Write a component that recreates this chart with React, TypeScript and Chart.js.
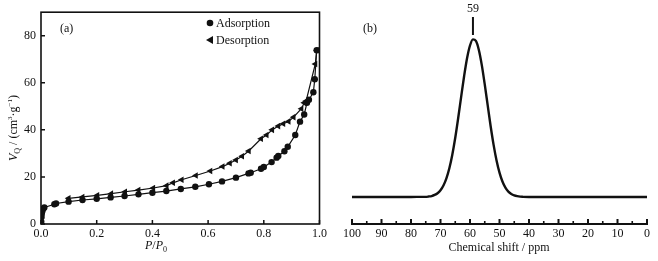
import React, { useEffect, useRef } from 'react';
import { Chart, registerables } from 'chart.js';

Chart.register(...registerables);

const FONT = '"Liberation Serif", "Times New Roman", serif';
const INK = '#111';

// (a) N2 isotherm
const adsorptionP = [0.001, 0.002, 0.003, 0.005, 0.008, 0.012, 0.048, 0.054, 0.099, 0.149, 0.2, 0.25, 0.3, 0.35, 0.4, 0.45, 0.502, 0.554, 0.603, 0.65, 0.7, 0.745, 0.753, 0.79, 0.8, 0.828, 0.846, 0.852, 0.874, 0.886, 0.913, 0.93, 0.945, 0.955, 0.962, 0.978, 0.983, 0.99];
const adsorptionV = [1, 3, 4.5, 5.5, 6.5, 7, 8.4, 8.7, 9.5, 10.2, 10.7, 11.3, 11.9, 12.6, 13.3, 14.0, 14.9, 15.8, 16.9, 18.1, 19.7, 21.5, 21.8, 23.5, 24.2, 26.3, 28.2, 28.9, 30.9, 32.8, 37.8, 43.5, 46.5, 51.5, 52.8, 56, 61.5, 73.8];
const desorptionP = [0.99, 0.985, 0.952, 0.945, 0.935, 0.907, 0.889, 0.87, 0.852, 0.83, 0.81, 0.79, 0.746, 0.722, 0.7, 0.678, 0.652, 0.608, 0.556, 0.505, 0.474, 0.451, 0.403, 0.35, 0.302, 0.252, 0.202, 0.149, 0.099];
const desorptionV = [73.8, 68, 52.3, 51.5, 49, 45.4, 43.6, 42.6, 41.6, 40, 37.8, 36.2, 31, 28.8, 27.2, 25.8, 24.4, 22.5, 20.6, 18.8, 17.5, 16.3, 15.3, 14.4, 13.7, 12.9, 12.2, 11.5, 10.9];
const pressureTicks = [0, 0.2, 0.4, 0.6, 0.8, 1.0];
const volumeTicks = [0, 20, 40, 60, 80];
const seriesNames = ['Adsorption', 'Desorption'];

// (b) NMR spectrum
const shiftPpm = [100, 90, 80, 76, 75, 74, 73, 72, 71, 70, 69, 68, 67, 66, 65, 64, 63, 62, 61, 60, 59, 58, 57, 56, 55, 54, 53, 52, 51, 50, 49, 48, 47, 46, 45, 44, 43, 42, 40, 30, 20, 10, 0];
const nmrIntensity = [0, 0, 0, 0.1, 0.1, 0.3, 0.6, 1.3, 2.4, 4.3, 7.3, 11.8, 18.2, 26.8, 37.5, 50, 63.4, 76.4, 87.8, 95.9, 99.8, 98.8, 93.1, 83.5, 71.3, 58, 44.8, 33, 23.1, 15.4, 9.8, 5.9, 3.4, 1.9, 1, 0.5, 0.2, 0.1, 0, 0, 0, 0, 0];
const shiftTicks = [100, 90, 80, 70, 60, 50, 40, 30, 20, 10, 0];
const shiftMinorTicks = [95, 85, 75, 65, 55, 45, 35, 25, 15, 5];
const peakLabel = 59;

type Part = { t: string; size: number; italic?: boolean; dy?: number };

function drawRich(ctx: CanvasRenderingContext2D, parts: Part[], cx: number, y: number) {
  const fontOf = (p: Part) => `${p.italic ? 'italic ' : ''}${p.size}px ${FONT}`;
  let total = 0;
  for (const p of parts) {
    ctx.font = fontOf(p);
    total += ctx.measureText(p.t).width;
  }
  let x = cx - total / 2;
  ctx.textAlign = 'left';
  ctx.textBaseline = 'alphabetic';
  for (const p of parts) {
    ctx.font = fontOf(p);
    ctx.fillText(p.t, x, y + (p.dy || 0));
    x += ctx.measureText(p.t).width;
  }
}

const leftDecor = {
  id: 'leftDecor',
  afterDraw(chart: any) {
    const ctx = chart.ctx as CanvasRenderingContext2D;
    const { left, right, top, bottom } = chart.chartArea;
    const xs = chart.scales.x;
    const ys = chart.scales.y;
    ctx.save();
    ctx.strokeStyle = INK;
    ctx.fillStyle = INK;
    ctx.lineWidth = 1.6;
    ctx.strokeRect(left, top, right - left, bottom - top);
    ctx.lineWidth = 1.5;
    ctx.beginPath();
    for (const v of pressureTicks) {
      const px = xs.getPixelForValue(v);
      ctx.moveTo(px, bottom);
      ctx.lineTo(px, bottom - 4);
    }
    for (const v of volumeTicks) {
      const py = ys.getPixelForValue(v);
      ctx.moveTo(left, py);
      ctx.lineTo(left + 4, py);
    }
    ctx.stroke();

    // panel label
    ctx.font = `12px ${FONT}`;
    ctx.textAlign = 'left';
    ctx.textBaseline = 'middle';
    ctx.fillText('(a)', 60, 29);

    // legend
    ctx.beginPath();
    ctx.arc(210, 23, 3.3, 0, Math.PI * 2);
    ctx.fill();
    ctx.beginPath();
    ctx.moveTo(206, 40);
    ctx.lineTo(213, 36);
    ctx.lineTo(213, 44);
    ctx.closePath();
    ctx.fill();
    ctx.font = `12px ${FONT}`;
    ctx.fillText(seriesNames[0], 216, 24);
    ctx.fillText(seriesNames[1], 216, 41);

    // x title
    drawRich(ctx, [
      { t: 'P', size: 12, italic: true },
      { t: '/', size: 12 },
      { t: 'P', size: 12, italic: true },
      { t: '0', size: 8, dy: 3 },
    ], 156, 249);

    // y title
    ctx.translate(17, 128);
    ctx.rotate(-Math.PI / 2);
    drawRich(ctx, [
      { t: 'V', size: 12, italic: true },
      { t: 'Q', size: 8, dy: 3 },
      { t: ' / (cm', size: 12 },
      { t: '3', size: 7, dy: -5 },
      { t: '·g', size: 12 },
      { t: '−1', size: 7, dy: -5 },
      { t: ')', size: 12 },
    ], 0, 0);
    ctx.restore();
  },
};

const rightDecor = {
  id: 'rightDecor',
  afterDraw(chart: any) {
    const ctx = chart.ctx as CanvasRenderingContext2D;
    const { bottom } = chart.chartArea;
    const xs = chart.scales.x;
    ctx.save();
    ctx.strokeStyle = INK;
    ctx.fillStyle = INK;
    ctx.lineWidth = 2;
    const x0 = xs.getPixelForValue(100);
    const x1 = xs.getPixelForValue(0);
    ctx.beginPath();
    ctx.moveTo(x0 - 1, bottom);
    ctx.lineTo(x1 + 1, bottom);
    ctx.stroke();
    ctx.beginPath();
    for (const v of shiftTicks) {
      const px = xs.getPixelForValue(v);
      ctx.moveTo(px, bottom);
      ctx.lineTo(px, bottom - 5);
    }
    ctx.stroke();
    ctx.lineWidth = 1.6;
    ctx.beginPath();
    for (const v of shiftMinorTicks) {
      const px = xs.getPixelForValue(v);
      ctx.moveTo(px, bottom);
      ctx.lineTo(px, bottom - 3);
    }
    ctx.stroke();

    ctx.font = `12px ${FONT}`;
    ctx.textAlign = 'left';
    ctx.textBaseline = 'middle';
    ctx.fillText('(b)', 363 - 330, 29);

    // peak marker
    const pk = xs.getPixelForValue(peakLabel);
    ctx.textAlign = 'center';
    ctx.fillText(String(peakLabel), pk, 9);
    ctx.lineWidth = 2;
    ctx.beginPath();
    ctx.moveTo(pk, 17);
    ctx.lineTo(pk, 35);
    ctx.stroke();

    // x title
    drawRich(ctx, [{ t: 'Chemical shift / ppm', size: 12 }], 499 - 330, 251);
    ctx.restore();
  },
};

export default function App() {
  const leftRef = useRef<HTMLCanvasElement>(null);
  const rightRef = useRef<HTMLCanvasElement>(null);

  useEffect(() => {
    const tickFont = { family: FONT, size: 12 };
    const left = new Chart(leftRef.current as HTMLCanvasElement, {
      type: 'line',
      data: {
        datasets: [
          {
            label: seriesNames[0],
            data: adsorptionP.map((x, i) => ({ x, y: adsorptionV[i] })),
            borderColor: INK,
            backgroundColor: INK,
            borderWidth: 1.2,
            pointStyle: 'circle',
            pointRadius: 3.2,
            pointBorderWidth: 0,
            pointBackgroundColor: INK,
            tension: 0,
          },
          {
            label: seriesNames[1],
            data: desorptionP.map((x, i) => ({ x, y: desorptionV[i] })),
            borderColor: INK,
            backgroundColor: INK,
            borderWidth: 1.2,
            pointStyle: 'triangle',
            rotation: -90,
            pointRadius: 3.8,
            pointBorderWidth: 0,
            pointBackgroundColor: INK,
            tension: 0,
          },
        ],
      } as any,
      options: {
        responsive: false,
        animation: false,
        layout: { padding: { top: 9, right: 10, left: 0, bottom: 0 } },
        plugins: { legend: { display: false }, tooltip: { enabled: false } },
        scales: {
          x: {
            type: 'linear',
            min: 0,
            max: 1,
            afterBuildTicks: (s: any) => { s.ticks = pressureTicks.map((value) => ({ value })); },
            afterFit: (s: any) => { s.height = 37; },
            ticks: { callback: (v: any) => Number(v).toFixed(1), font: tickFont, color: INK, padding: 3, maxRotation: 0, autoSkip: false },
            grid: { display: false, drawTicks: false },
            border: { display: false },
          },
          y: {
            type: 'linear',
            min: 0,
            max: 90,
            afterBuildTicks: (s: any) => { s.ticks = volumeTicks.map((value) => ({ value })); },
            afterFit: (s: any) => { s.width = 41; },
            ticks: { font: tickFont, color: INK, padding: 5, autoSkip: false },
            grid: { display: false, drawTicks: false },
            border: { display: false },
          },
        },
      } as any,
      plugins: [leftDecor],
    });

    const right = new Chart(rightRef.current as HTMLCanvasElement, {
      type: 'line',
      data: {
        datasets: [
          {
            data: shiftPpm.map((x, i) => ({ x, y: nmrIntensity[i] })),
            borderColor: INK,
            borderWidth: 2.4,
            pointRadius: 0,
            tension: 0.4,
            cubicInterpolationMode: 'monotone',
          },
        ],
      } as any,
      options: {
        responsive: false,
        animation: false,
        layout: { padding: { top: 9, right: 11, left: 22, bottom: 0 } },
        plugins: { legend: { display: false }, tooltip: { enabled: false } },
        scales: {
          x: {
            type: 'linear',
            reverse: true,
            min: 0,
            max: 100,
            afterBuildTicks: (s: any) => { s.ticks = shiftTicks.map((value) => ({ value })); },
            afterFit: (s: any) => { s.height = 37; },
            ticks: { font: tickFont, color: INK, padding: 3, maxRotation: 0, autoSkip: false },
            grid: { display: false, drawTicks: false },
            border: { display: false },
          },
          y: { display: false, min: -17.1, max: 119 },
        },
      } as any,
      plugins: [rightDecor],
    });

    return () => {
      left.destroy();
      right.destroy();
    };
  }, []);

  return (
    <div style={{ position: 'absolute', left: 0, top: 0, width: 658, height: 261, background: '#fff' }}>
      <canvas ref={leftRef} width={330} height={261} style={{ position: 'absolute', left: 0, top: 0, width: 330, height: 261 }} />
      <canvas ref={rightRef} width={328} height={261} style={{ position: 'absolute', left: 330, top: 0, width: 328, height: 261 }} />
    </div>
  );
}
